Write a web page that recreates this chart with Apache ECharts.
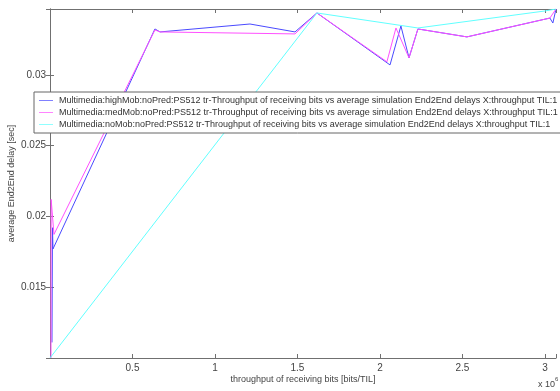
<!DOCTYPE html>
<html>
<head>
<meta charset="utf-8">
<script src="https://cdn.jsdelivr.net/npm/echarts@6/dist/echarts.min.js"></script>
<style>html,body{margin:0;padding:0;background:#fff;}#c{width:560px;height:391px;}</style>
</head>
<body>
<div id="c"></div>
<script>
// x values in bits/TIL, y values in seconds
var seriesNames = [
  'Multimedia:highMob:noPred:PS512 tr-Throughput of receiving bits vs average simulation End2End delays X:throughput TIL:1',
  'Multimedia:medMob:noPred:PS512 tr-Throughput of receiving bits vs average simulation End2End delays X:throughput TIL:1',
  'Multimedia:noMob:noPred:PS512 tr-Throughput of receiving bits vs average simulation End2End delays X:throughput TIL:1'
];
var highMobX = [0.012e6, 0.015e6, 0.018e6, 0.636e6, 0.667e6, 1.212e6, 1.485e6, 1.618e6, 2.061e6, 2.127e6, 2.176e6, 2.230e6, 2.527e6, 3.030e6, 3.048e6, 3.067e6];
var highMobY = [0.0111, 0.0192, 0.0177, 0.03324, 0.03303, 0.03359, 0.03303, 0.03437, 0.0307, 0.03345, 0.0312, 0.03324, 0.03268, 0.03401, 0.03366, 0.03465];
var medMobX = [0.006e6, 0.007e6, 0.024e6, 0.636e6, 0.667e6, 1.485e6, 1.618e6, 2.042e6, 2.097e6, 2.176e6, 2.230e6, 2.527e6, 3.030e6, 3.067e6];
var medMobY = [0.0100, 0.0212, 0.01873, 0.03317, 0.03303, 0.03289, 0.03437, 0.03092, 0.03331, 0.0312, 0.03324, 0.03268, 0.03401, 0.03465];
var noMobX = [0.0, 1.618e6, 2.230e6, 3.000e6, 3.067e6];
var noMobY = [0.0100, 0.03437, 0.03331, 0.03451, 0.03465];
var xTickStep = 0.5e6;
var yTickStep = 0.005;

function pairs(xs, ys) { return xs.map(function (x, i) { return [x, ys[i]]; }); }

var chart = echarts.init(document.getElementById('c'));
var font = 'Liberation Sans, Arial, sans-serif';
var frameColor = '#707070';
function isMult(v, s) { var r = v / s; return Math.abs(r - Math.round(r)) < 1e-6; }

var lineIcon = 'path://M0,0 L20,0 L20,1 L0,1 Z';

chart.setOption({
  animation: false,
  backgroundColor: '#ffffff',
  grid: { left: 50, right: 4, top: 9, bottom: 33, show: false, containLabel: false, outerBoundsMode: 'none' },
  xAxis: [{
    type: 'value', min: 0, max: 3.067e6, interval: xTickStep,
    axisLine: { show: true, lineStyle: { color: frameColor, width: 1 } },
    axisTick: { show: true, inside: true, length: 4, lineStyle: { color: frameColor } },
    axisLabel: { color: '#444', fontFamily: font, fontSize: 10, margin: 5,
      formatter: function (v) { if (v === 0 || !isMult(v, xTickStep)) return ''; return String(Math.round(v / 1e5) / 10); } },
    splitLine: { show: false },
    name: 'throughput of receiving bits [bits/TIL]', nameLocation: 'middle', nameGap: 17, nameMoveOverlap: false,
    nameTextStyle: { color: '#444', fontFamily: font, fontSize: 9 }
  }, {
    type: 'value', position: 'top', min: 0, max: 3.067e6, interval: xTickStep,
    axisLine: { show: true, lineStyle: { color: frameColor, width: 1 } },
    axisTick: { show: true, inside: true, length: 4, lineStyle: { color: frameColor } },
    axisLabel: { show: false }, splitLine: { show: false }
  }],
  yAxis: [{
    type: 'value', min: 0.01, max: 0.03465, interval: yTickStep,
    axisLine: { show: true, lineStyle: { color: frameColor, width: 1 } },
    axisTick: { show: true, inside: true, length: 4, lineStyle: { color: frameColor } },
    axisLabel: { color: '#444', fontFamily: font, fontSize: 10, margin: 4,
      formatter: function (v) { if (v < 0.0125 || !isMult(v, yTickStep)) return ''; return String(Math.round(v * 1000) / 1000); } },
    splitLine: { show: false },
    name: 'average End2End delay [sec]', nameLocation: 'middle', nameGap: 34, nameRotate: 90, nameMoveOverlap: false,
    nameTextStyle: { color: '#444', fontFamily: font, fontSize: 9 }
  }, {
    type: 'value', position: 'right', min: 0.01, max: 0.03465, interval: yTickStep,
    axisLine: { show: true, lineStyle: { color: frameColor, width: 1 } },
    axisTick: { show: true, inside: true, length: 4, lineStyle: { color: frameColor } },
    axisLabel: { show: false }, splitLine: { show: false }
  }],
  legend: {
    orient: 'vertical', left: 34, top: 92,
    backgroundColor: '#ffffff', borderColor: '#666', borderWidth: 1,
    padding: [3, 4, 3, 5], itemGap: 1, itemWidth: 14, itemHeight: 11,
    textStyle: { color: '#333', fontFamily: font, fontSize: 9, lineHeight: 11, padding: [0, 0, 0, 1] },
    data: seriesNames.map(function (n) { return { name: n, icon: lineIcon }; })
  },
  graphic: [{
    type: 'text', left: 538, top: 380,
    style: { text: 'x 10', fill: '#444', font: '9px ' + font }
  }, {
    type: 'text', left: 555, top: 376,
    style: { text: '6', fill: '#444', font: '6px ' + font }
  }],
  series: [{
    name: seriesNames[0], type: 'line', data: pairs(highMobX, highMobY),
    symbol: 'none', lineStyle: { color: '#4a4aff', width: 1 }, itemStyle: { color: '#4a4aff' }
  }, {
    name: seriesNames[1], type: 'line', data: pairs(medMobX, medMobY),
    symbol: 'none', lineStyle: { color: '#ff50ff', width: 1 }, itemStyle: { color: '#ff50ff' }
  }, {
    name: seriesNames[2], type: 'line', data: pairs(noMobX, noMobY),
    symbol: 'none', lineStyle: { color: '#60ffff', width: 1 }, itemStyle: { color: '#60ffff' }
  }]
});
</script>
</body>
</html>
